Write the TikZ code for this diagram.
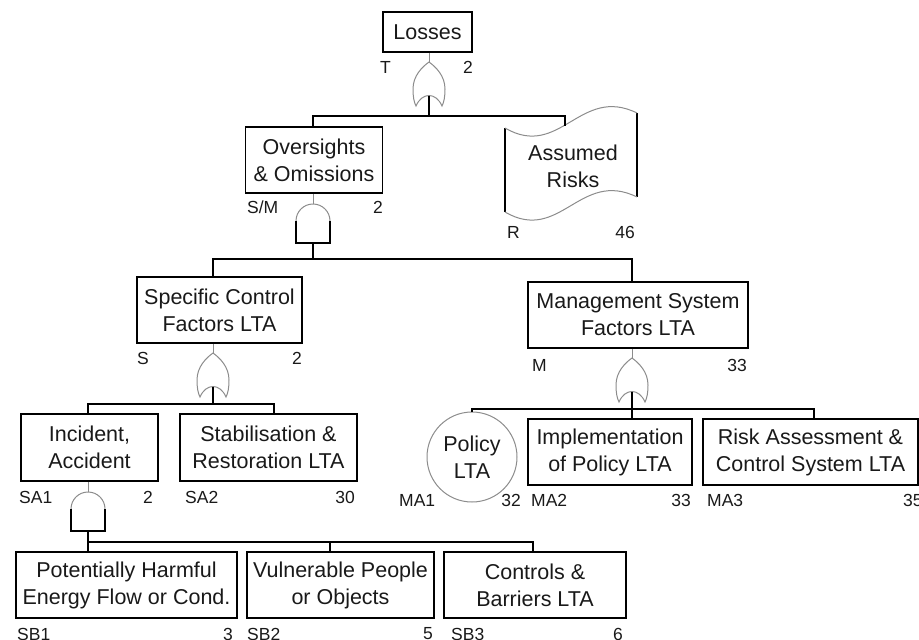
\documentclass[tikz,border=0pt]{standalone}
\usepackage{fontspec}
\setmainfont{Liberation Sans}
\begin{document}
\begin{tikzpicture}[x=1pt,y=-1pt,
  box/.style={draw=black, line width=1.5pt, inner sep=0pt, align=center,
    font=\fontsize{21.5}{27}\selectfont, text=black!90},
  lbl/.style={inner sep=0pt, font=\fontsize{17.5}{20}\selectfont, text=black!90},
  wire/.style={line width=1.5pt, draw=black},
  thinline/.style={line width=1pt, draw=black!45},
  orgate/.pic={
    \draw[thinline] (0,0) .. controls (7,5) and (16,14) .. (16,27)
      .. controls (16,35) and (15,40) .. (13,44)
      .. controls (7,30) and (-7,30) .. (-13,44)
      .. controls (-15,40) and (-16,35) .. (-16,27)
      .. controls (-16,14) and (-7,5) .. (0,0) -- cycle;
    \coordinate (-top) at (0,0);
    \coordinate (-in) at (0,33.5);
  },
  andgate/.pic={
    \draw[thinline] (-17,17) .. controls (-17,7.6) and (-9.4,0) .. (0,0)
      .. controls (9.4,0) and (17,7.6) .. (17,17);
    \draw[wire, line join=miter] (-17,17) -- (-17,39) -- (17,39) -- (17,17);
    \coordinate (-top) at (0,0);
    \coordinate (-bot) at (0,39);
  }
]
\useasboundingbox (0,0) rectangle (919,640);

% ---- events ----
\node[box, minimum width=89pt, minimum height=40pt] (loss) at (427.5,32) {Losses};
\node[box, minimum width=137pt, minimum height=66pt] (ov) at (314,160) {Oversights\\\& Omissions};
\node[box, draw=none] (ar) at (573,166) {Assumed\\Risks};
\node[box, minimum width=165pt, minimum height=66pt] (sc) at (219.5,310) {Specific Control\\Factors LTA};
\node[box, minimum width=220pt, minimum height=66pt] (mg) at (638,315) {Management System\\Factors LTA};
\node[box, minimum width=137pt, minimum height=67pt] (inc) at (89.5,447.5) {Incident,\\Accident};
\node[box, minimum width=177pt, minimum height=67pt] (stab) at (268.5,447.5) {Stabilisation \&\\Restoration LTA};
\node[box, circle, draw=black!45, line width=1pt, minimum size=90pt] (pol) at (472,457) {Policy\\LTA};
\node[box, minimum width=164pt, minimum height=66pt] (imp) at (610,452) {Implementation\\of Policy LTA};
\node[box, minimum width=215pt, minimum height=66pt] (risk) at (810.5,452) {Risk Assessment \&\\Control System LTA};
\node[box, minimum width=221pt, minimum height=66pt] (sb1) at (126.5,585) {Potentially Harmful\\Energy Flow or Cond.};
\node[box, minimum width=187pt, minimum height=66pt] (sb2) at (340.5,585) {Vulnerable People\\or Objects};
\node[box, minimum width=182pt, minimum height=66pt] (sb3) at (535,585) {Controls \&\\Barriers LTA};

% undeveloped (assumed) event outline
\draw[wire] (505,128) -- (505,212);
\draw[wire] (637,113) -- (637,197);
\draw[thinline] (505,128) .. controls (560,160) and (580,85) .. (637,113);
\draw[thinline] (505,212) .. controls (560,244) and (580,169) .. (637,197);
\coordinate (ar-top) at (565,125.5);

% ---- gates ----
\pic (g1) at (429,62) {orgate};
\pic (g2) at (313,204) {andgate};
\pic (g3) at (213,353) {orgate};
\pic (g4) at (632,358) {orgate};
\pic (g5) at (88,492) {andgate};

% ---- bus coordinates ----
\coordinate (b1a) at (313,116); \coordinate (b1b) at (565,116);
\coordinate (b2a) at (213,259); \coordinate (b2b) at (632,259);
\coordinate (b3a) at (88,404);  \coordinate (b3b) at (274,404);
\coordinate (b4a) at (472,409); \coordinate (b4b) at (814,409);
\coordinate (b5a) at (88,542);  \coordinate (b5c) at (330,542); \coordinate (b5b) at (533,542);

% ---- gate inputs from parent events ----
\draw[thinline] (loss.south -| g1-top) -- (g1-top);
\draw[thinline] (ov.south -| g2-top) -- (g2-top);
\draw[thinline] (sc.south -| g3-top) -- (g3-top);
\draw[thinline] (mg.south -| g4-top) -- (g4-top);
\draw[thinline] (inc.south -| g5-top) -- (g5-top);

% ---- gate outputs to children ----
\draw[wire] (g1-in) -- (g1-in |- b1a);
\draw[wire] (ov.north -| b1a) -- (b1a) -- (b1b) -- (ar-top);

\draw[wire] (g2-bot) -- (g2-bot |- b2a);
\draw[wire] (sc.north -| b2a) -- (b2a) -- (b2b) -- (mg.north -| b2b);

\draw[wire] (g3-in) -- (g3-in |- b3a);
\draw[wire] (inc.north -| b3a) -- (b3a) -- (b3b) -- (stab.north -| b3b);

\draw[wire] (g4-in) -- (imp.north -| g4-in);
\draw[wire] (pol.north) -- (b4a) -- (b4b) -- (risk.north -| b4b);

\draw[wire] (g5-bot) -- (sb1.north -| g5-bot);
\draw[wire] (b5a) -- (b5b) -- (sb3.north -| b5b);
\draw[wire] (b5c) -- (sb2.north -| b5c);

% ---- codes and page numbers ----
\node[lbl, anchor=west] (tT) at (380,67) {T};
\node[lbl, anchor=east] (nT) at (473,67) {2};
\node[lbl, anchor=west] (tSM) at (247,207) {S/M};
\node[lbl, anchor=east] (nSM) at (383,207) {2};
\node[lbl, anchor=west] (tR) at (507,232) {R};
\node[lbl, anchor=east] (nR) at (635,232) {46};
\node[lbl, anchor=west] (tS) at (137,358) {S};
\node[lbl, anchor=east] (nS) at (302,358) {2};
\node[lbl, anchor=west] (tM) at (532,365) {M};
\node[lbl, anchor=east] (nM) at (747,365) {33};
\node[lbl, anchor=west] (tSA1) at (19,497) {SA1};
\node[lbl, anchor=east] (nSA1) at (153,497) {2};
\node[lbl, anchor=west] (tSA2) at (185,497) {SA2};
\node[lbl, anchor=east] (nSA2) at (355,497) {30};
\node[lbl, anchor=west] (tMA1) at (399,500) {MA1};
\node[lbl, anchor=east] (nMA1) at (521,500) {32};
\node[lbl, anchor=west] (tMA2) at (531,500) {MA2};
\node[lbl, anchor=east] (nMA2) at (691,500) {33};
\node[lbl, anchor=west] (tMA3) at (707,500) {MA3};
\node[lbl, anchor=west] (nMA3) at (903,500) {35};
\node[lbl, anchor=west] (tSB1) at (17,634) {SB1};
\node[lbl, anchor=east] (nSB1) at (233,634) {3};
\node[lbl, anchor=west] (tSB2) at (247,634) {SB2};
\node[lbl, anchor=east] (nSB2) at (433,634) {5};
\node[lbl, anchor=west] (tSB3) at (451,634) {SB3};
\node[lbl, anchor=east] (nSB3) at (623,634) {6};
\end{tikzpicture}
\end{document}
